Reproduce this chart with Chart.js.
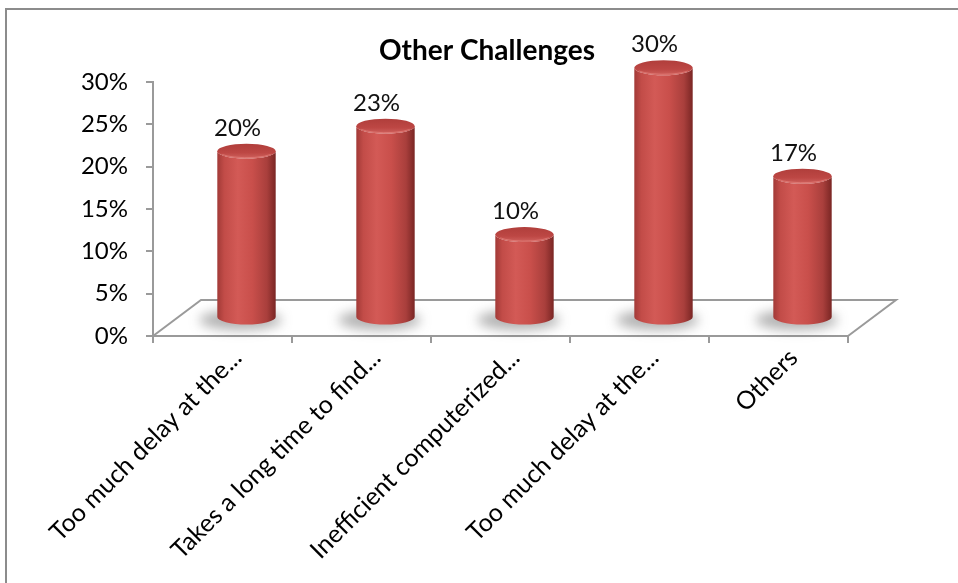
<!DOCTYPE html>
<html>
<head>
<meta charset="utf-8">
<script src="https://cdn.jsdelivr.net/npm/chart.js@4/dist/chart.umd.min.js"></script>
<style>
  html, body { margin: 0; padding: 0; background: #ffffff; }
  #wrap { position: relative; width: 958px; height: 583px; }
  canvas { display: block; }
</style>
</head>
<body>
<div id="wrap"><canvas id="c" width="958" height="583"></canvas></div>
<script>
// ---- data ----
const chartTitle = "Other Challenges";
const categories = [
  "Too much delay at the...",
  "Takes a long time to find...",
  "Inefficient computerized...",
  "Too much delay at the...",
  "Others"
];
const values = [20, 23, 10, 30, 17];
const dataLabels = ["20%", "23%", "10%", "30%", "17%"];
const yTickLabels = ["0%", "5%", "10%", "15%", "20%", "25%", "30%"];

// ---- styling constants ----
const FONT = "Lato";
const AXIS_COLOR = "#9a9a9a";
const DEPTH_X = 48, DEPTH_Y = -36;   // 3D floor depth
const BAR_DX = 24, BAR_DY = -18;     // bars sit at mid depth
const RY = 7.5;                       // ellipse vertical radius

function drawCylinder(ctx, cx, topY, botY, rx) {
  const g = ctx.createLinearGradient(cx - rx, 0, cx + rx, 0);
  g.addColorStop(0.00, "#a23a37");
  g.addColorStop(0.12, "#c24c48");
  g.addColorStop(0.35, "#d35a56");
  g.addColorStop(0.60, "#c94f4b");
  g.addColorStop(0.85, "#a93f3c");
  g.addColorStop(1.00, "#7a2624");
  ctx.save();
  ctx.beginPath();
  ctx.moveTo(cx - rx, topY);
  ctx.lineTo(cx - rx, botY);
  ctx.ellipse(cx, botY, rx, RY, 0, Math.PI, 0, true);
  ctx.lineTo(cx + rx, topY);
  ctx.ellipse(cx, topY, rx, RY, 0, 0, Math.PI, false);
  ctx.closePath();
  ctx.fillStyle = g;
  ctx.fill();
  const tg = ctx.createLinearGradient(0, topY - RY, 0, topY + RY);
  tg.addColorStop(0, "#b03e3b");
  tg.addColorStop(0.6, "#bd4744");
  tg.addColorStop(1, "#d0625e");
  ctx.beginPath();
  ctx.ellipse(cx, topY, rx, RY, 0, 0, Math.PI * 2);
  ctx.fillStyle = tg;
  ctx.fill();
  ctx.beginPath();
  ctx.ellipse(cx, topY + 0.5, rx - 2, RY - 1.5, 0, 0.15 * Math.PI, 0.85 * Math.PI);
  ctx.strokeStyle = "rgba(235,140,135,0.55)";
  ctx.lineWidth = 1;
  ctx.stroke();
  ctx.restore();
}

const cylinderPlugin = {
  id: "cylinders",
  beforeDraw(chart) {
    const ctx = chart.ctx;
    ctx.save();
    ctx.fillStyle = "#ffffff";
    ctx.fillRect(0, 0, chart.width, chart.height);
    ctx.strokeStyle = "#8c8c8c";
    ctx.lineWidth = 2;
    ctx.beginPath();
    ctx.moveTo(6, chart.height + 2);
    ctx.lineTo(6, 9);
    ctx.lineTo(chart.width + 2, 9);
    ctx.stroke();
    ctx.restore();
  },
  beforeDatasetsDraw(chart) {
    const ctx = chart.ctx;
    const a = chart.chartArea;
    ctx.save();
    ctx.strokeStyle = AXIS_COLOR;
    ctx.lineWidth = 2;
    ctx.beginPath();
    ctx.moveTo(a.left, a.bottom);
    ctx.lineTo(a.left + DEPTH_X, a.bottom + DEPTH_Y);
    ctx.lineTo(a.right + DEPTH_X, a.bottom + DEPTH_Y);
    ctx.lineTo(a.right, a.bottom);
    ctx.stroke();
    const meta = chart.getDatasetMeta(0);
    meta.data.forEach((el) => {
      const cx = el.x + BAR_DX;
      const botY = el.base + BAR_DY;
      ctx.save();
      ctx.filter = "blur(6px)";
      ctx.fillStyle = "rgba(70,70,70,0.42)";
      ctx.beginPath();
      ctx.ellipse(cx - 6, botY + 3, el.width / 2 + 12, 10, 0, 0, Math.PI * 2);
      ctx.fill();
      ctx.restore();
    });
    ctx.restore();
  },
  afterDatasetsDraw(chart) {
    const ctx = chart.ctx;
    const meta = chart.getDatasetMeta(0);
    meta.data.forEach((el, i) => {
      const cx = el.x + BAR_DX;
      const botY = el.base + BAR_DY;
      const topY = botY - (el.base - el.y) * 0.985;
      drawCylinder(ctx, cx, topY, botY, el.width / 2);
      ctx.save();
      ctx.font = "24px " + FONT;
      ctx.fillStyle = "#111111";
      ctx.textAlign = "center";
      ctx.textBaseline = "alphabetic";
      ctx.fillText(dataLabels[i], cx - 9, topY - RY - 8);
      ctx.restore();
    });
    ctx.save();
    ctx.font = "bold 28px " + FONT;
    ctx.fillStyle = "#000000";
    ctx.textAlign = "center";
    ctx.textBaseline = "alphabetic";
    ctx.fillText(chartTitle, 487, 60);
    ctx.restore();
  }
};

new Chart(document.getElementById("c"), {
  type: "bar",
  data: {
    labels: categories,
    datasets: [{
      label: chartTitle,
      data: values,
      backgroundColor: "rgba(0,0,0,0)",
      borderWidth: 0,
      barPercentage: 0.42,
      categoryPercentage: 1.0
    }]
  },
  options: {
    responsive: false,
    animation: false,
    devicePixelRatio: 1,
    layout: { padding: { top: 82, left: 0, right: 110, bottom: 0 } },
    plugins: {
      legend: { display: false },
      title: { display: false },
      tooltip: { enabled: false }
    },
    scales: {
      x: {
        type: "category",
        grid: { drawOnChartArea: false, drawTicks: true, tickLength: 7, color: AXIS_COLOR, lineWidth: 2, offset: true },
        border: { display: true, color: AXIS_COLOR, width: 2 },
        ticks: {
          autoSkip: false, minRotation: 45, maxRotation: 45,
          font: { family: FONT, size: 25 }, color: "#000000",
          padding: 0, labelOffset: 15
        },
        afterFit(scale) { scale.height = 247; scale.paddingLeft = 0; scale.paddingRight = 0; }
      },
      y: {
        min: 0, max: 30,
        ticks: {
          stepSize: 5,
          font: { family: FONT, size: 24 }, color: "#000000",
          padding: 18,
          callback: (v, i) => yTickLabels[i]
        },
        grid: { drawOnChartArea: false, drawTicks: true, tickLength: 7, color: AXIS_COLOR, lineWidth: 2 },
        border: { display: true, color: AXIS_COLOR, width: 2 },
        afterFit(scale) { scale.width = 153; scale.paddingTop = 0; scale.paddingBottom = 0; }
      }
    }
  },
  plugins: [cylinderPlugin]
});
</script>
</body>
</html>
